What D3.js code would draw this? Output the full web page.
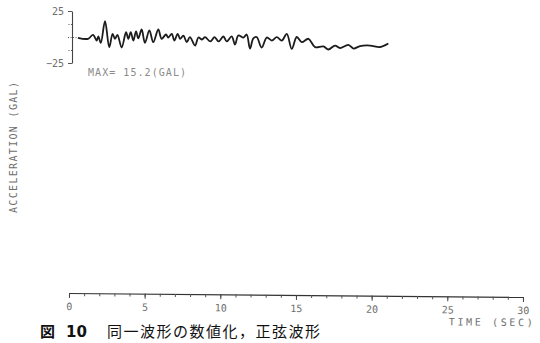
<!DOCTYPE html>
<html>
<head>
<meta charset="utf-8">
<script src="https://cdn.jsdelivr.net/npm/d3@7"></script>
<style>
  body { margin: 0; background: #fff; }
  svg { display: block; }
</style>
</head>
<body>
<svg></svg>
<script>
// Digitised record (time in s, acceleration in gal)
const timeSec = [0.59, 1.26, 1.59, 1.83, 1.94, 2.10, 2.38, 2.66, 2.88, 3.04, 3.20, 3.48, 3.77, 3.92,
  4.08, 4.25, 4.43, 4.58, 4.80, 5.02, 5.31, 5.57, 5.90, 6.12, 6.41, 6.56, 6.79, 6.96, 7.18, 7.34,
  7.56, 7.78, 7.99, 8.33, 8.55, 8.79, 8.99, 9.34, 9.62, 9.88, 10.20, 10.42, 10.75, 10.97, 11.19,
  11.53, 11.74, 11.96, 12.18, 12.40, 12.73, 13.07, 13.40, 13.73, 14.06, 14.39, 14.72, 15.05,
  15.38, 15.82, 16.26, 16.81, 17.14, 17.58, 17.91, 18.46, 18.80, 19.23, 19.90, 20.56, 21.10];
const accelGal = [-0.8, -1.7, 2.1, -3.4, 0.5, -5.7, 15.2, -9.8, 3.1, -1.7, 2.1, -10.1, 4.6, -1.7,
  4.6, -3.4, 5.3, -1.4, 7.2, -5.6, 6.3, -5.0, 7.2, -1.7, 2.4, -0.5, 3.1, -3.4, 3.1, -1.7,
  1.4, -5.0, -0.2, -8.2, -0.5, -2.4, -0.2, -4.3, -0.2, -4.3, 0.5, -4.3, 0.5, -7.2, 1.4,
  -0.5, 2.4, -11.1, -1.4, 0.0, -10.1, -0.5, -3.4, -0.2, -3.4, 2.9, -11.5, 0.0,
  -5.0, -1.7, -9.8, -9.1, -12.0, -8.2, -10.6, -7.5, -11.1, -8.7, -8.2, -9.6, -6.3];

const yTicks = [-25, -12.5, 0, 12.5, 25];
const yLabeled = [-25, 25];
const xMajorTicks = [0, 5, 10, 15, 20, 25, 30];
const maxLabel = "MAX= 15.2(GAL)";
const yTitle = "ACCELERATION (GAL)";
const xTitle = "TIME (SEC)";

const width = 540, height = 343;
const svg = d3.select("svg").attr("width", width).attr("height", height);
svg.append("rect").attr("width", width).attr("height", height).attr("fill", "#fff");

const mono = "'DejaVu Sans Mono', 'Liberation Mono', monospace";
const grey = "#6e6e6e";

// scales
const x = d3.scaleLinear().domain([0, 30]).range([69, 523]);
const y = d3.scaleLinear().domain([-25, 25]).range([63, 11]);

// y axis of the trace
const yAxis = svg.append("g")
  .attr("transform", "translate(72,0)")
  .call(d3.axisLeft(y).tickValues(yTicks).tickSize(4).tickSizeOuter(0)
    .tickFormat(d => yLabeled.includes(d) ? d3.format("d")(d) : ""));
yAxis.select(".domain").attr("stroke", "#444").attr("stroke-width", 1.1);
yAxis.selectAll(".tick line")
  .attr("stroke", "#555")
  .attr("stroke-dasharray", d => yLabeled.includes(d) ? null : "1,1.5");
yAxis.selectAll(".tick")
  .filter(d => d === 0)
  .select("line").attr("x2", 6).attr("x1", -4);
yAxis.selectAll(".tick text")
  .attr("fill", grey).attr("font-family", mono).attr("font-size", 10).attr("dx", "-1");

// trace
const line = d3.line()
  .x((d, i) => x(timeSec[i]))
  .y(d => y(d))
  .curve(d3.curveCatmullRom.alpha(0.5));
svg.append("path")
  .datum(accelGal)
  .attr("d", line)
  .attr("fill", "none")
  .attr("stroke", "#1c1c1c")
  .attr("stroke-width", 1.8)
  .attr("stroke-linejoin", "round");

svg.append("text")
  .attr("x", 88).attr("y", 76)
  .attr("font-family", mono).attr("font-size", 10)
  .attr("textLength", 98).attr("lengthAdjust", "spacing")
  .attr("fill", "#8a8a8a")
  .text(maxLabel);

// vertical title
svg.append("text")
  .attr("transform", "translate(17,147.5) rotate(-90)")
  .attr("text-anchor", "middle")
  .attr("font-family", mono).attr("font-size", 10)
  .attr("textLength", 131).attr("lengthAdjust", "spacing")
  .attr("fill", grey)
  .text(yTitle);

// time axis (scan is a little skewed)
const xg = svg.append("g").attr("transform", "rotate(0.5,69,293)");
const minor = xg.append("g")
  .attr("transform", "translate(0,293)")
  .call(d3.axisBottom(x).ticks(30).tickSize(3).tickSizeOuter(0).tickFormat(""));
minor.select(".domain").attr("stroke", "#333").attr("stroke-width", 1.2);
minor.selectAll(".tick line").attr("stroke", "#555");

const major = xg.append("g")
  .attr("transform", "translate(0,293)")
  .call(d3.axisBottom(x).tickValues(xMajorTicks).tickSize(5).tickSizeOuter(0).tickPadding(5));
major.select(".domain").remove();
major.selectAll(".tick line").attr("stroke", "#444");
major.selectAll(".tick text")
  .attr("fill", grey).attr("font-family", mono).attr("font-size", 10);

xg.append("text")
  .attr("x", 533).attr("y", 322)
  .attr("text-anchor", "end")
  .attr("font-family", mono).attr("font-size", 10)
  .attr("textLength", 84).attr("lengthAdjust", "spacing")
  .attr("fill", grey)
  .text(xTitle);

// caption along the lower edge
const cap = svg.append("text")
  .attr("y", 337)
  .attr("font-family", "'Noto Sans CJK JP', sans-serif")
  .attr("font-size", 15)
  .attr("fill", "#111");
cap.append("tspan").attr("x", 40).attr("font-weight", 700).text("図");
cap.append("tspan").attr("x", 66).attr("font-weight", 700).attr("font-family", "'DejaVu Sans', sans-serif").text("10");
cap.append("tspan").attr("x", 107).attr("letter-spacing", 1.5).text("同一波形の数値化，正弦波形");
</script>
</body>
</html>
